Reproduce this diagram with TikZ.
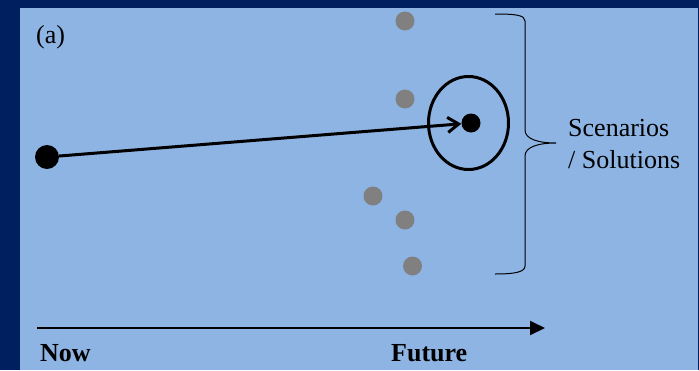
\documentclass[tikz,border=0pt]{standalone}
\usepackage{fontspec}
\setmainfont{Liberation Serif}
\usetikzlibrary{arrows.meta,shapes.geometric}
\definecolor{navy}{HTML}{001F5F}
\definecolor{bgblue}{HTML}{8EB4E3}
\definecolor{dotgray}{HTML}{808080}
\begin{document}
\begin{tikzpicture}[x=1pt,y=-1pt,
  lbl/.style={anchor=base west,inner sep=0pt,font=\fontsize{26}{31}\selectfont},
  blbl/.style={lbl,font=\fontsize{26}{31}\selectfont\bfseries},
  gdot/.style={circle,fill=dotgray,minimum size=19pt,inner sep=0pt},
  bdot/.style={circle,fill=black,inner sep=0pt}]
\useasboundingbox (0,0) rectangle (699,370);
\fill[navy] (0,0) rectangle (699,370);
\fill[bgblue] (20,8) rectangle (698,370);
\node[lbl] (a) at (36,43) {(a)};
% gray scenario dots
\node[gdot] (g1) at (405,21) {};
\node[gdot] (g2) at (405,99) {};
\node[gdot] (g3) at (373,196) {};
\node[gdot] (g4) at (405,220) {};
\node[gdot] (g5) at (412.5,266) {};
% now and chosen solution
\node[bdot,minimum size=24pt] (now) at (47,157) {};
\node[bdot,minimum size=19pt] (sol) at (471,123) {};
\node[draw,ellipse,line width=3pt,minimum width=80pt,minimum height=93pt,inner sep=0pt] (ell) at (468.5,123) {};
\draw[line width=3pt,-{Straight Barb[length=11pt,width=15pt]}] (now) -- (sol);
% brace
\draw[line width=1pt] (495,14) .. controls (515,14) and (525,15) .. (525,21) -- (525,130)
  .. controls (525,139) and (538,143) .. (556,143)
  .. controls (538,143) and (525,147) .. (525,156) -- (525,266)
  .. controls (525,272) and (515,274) .. (495,274);
\node[lbl] (sc) at (568,136) {Scenarios};
\node[lbl] (so) at (568,168) {/ Solutions};
% time axis
\coordinate (axL) at (37,328);
\coordinate (axR) at (545,328);
\draw[line width=2pt,-{Triangle[length=15pt,width=14pt]}] (axL) -- (axR);
\node[blbl] (nowl) at (40,361) {Now};
\node[blbl] (fut) at (391,361) {Future};
\end{tikzpicture}
\end{document}
